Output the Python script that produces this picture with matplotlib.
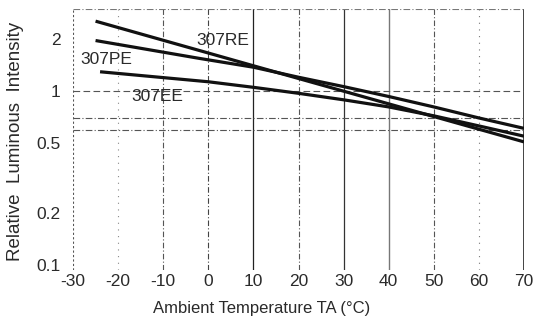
import matplotlib
matplotlib.use("Agg")
import matplotlib.pyplot as plt
from matplotlib import font_manager

names = {f.name for f in font_manager.fontManager.ttflist}
FAM = [n for n in ["Liberation Sans Narrow", "DejaVu Sans Condensed", "Liberation Sans", "DejaVu Sans"] if n in names]

# ---- data ----
temp_re = [-25, 20, 70]
val_re = [2.52, 1.18, 0.51]

temp_pe = [-25, -2, 10, 20, 30, 40, 50, 60, 70]
val_pe = [1.95, 1.54, 1.37, 1.20, 1.06, 0.93, 0.81, 0.70, 0.61]

temp_ee = [-24, 0, 10, 20, 30, 40, 50, 60, 70]
val_ee = [1.29, 1.13, 1.05, 0.97, 0.89, 0.81, 0.72, 0.63, 0.55]

x_ticks = [-30, -20, -10, 0, 10, 20, 30, 40, 50, 60, 70]
x_tick_labels = ["-30", "-20", "-10", "0", "10", "20", "30", "40", "50", "60", "70"]
y_ticks = [0.1, 0.2, 0.5, 1, 2]
y_tick_labels = ["0.1", "0.2", "0.5", "1", "2"]
h_refs = [0.7, 0.6]

series_labels = ["307RE", "307PE", "307EE"]

plt.rcParams["font.family"] = FAM

fig = plt.figure(figsize=(5.35, 3.33), dpi=100)
ax = fig.add_axes([73 / 535, 1 - 270 / 333, 451 / 535, 261 / 333])
ax.set_yscale("log")
ax.set_xlim(-30, 70)
ax.set_ylim(0.0936, 2.96)

for s in ax.spines.values():
    s.set_visible(False)

# vertical grid lines with assorted styles (scanned look)
vstyles = {
    -30: dict(ls=(0, (2, 2)), color="#555555", lw=0.8),
    -20: dict(ls=(0, (1, 5)), color="#888888", lw=0.8),
    -10: dict(ls=(0, (5, 2, 1, 2)), color="#555555", lw=0.8),
    0: dict(ls=(0, (5, 2, 1, 2)), color="#444444", lw=0.8),
    10: dict(ls="-", color="#222222", lw=0.9),
    20: dict(ls=(0, (5, 2, 1, 2)), color="#555555", lw=0.8),
    30: dict(ls="-", color="#333333", lw=0.9),
    40: dict(ls="-", color="#777777", lw=1.0),
    50: dict(ls=(0, (5, 2, 1, 2)), color="#555555", lw=0.8),
    60: dict(ls=(0, (1, 5)), color="#777777", lw=0.8),
    70: dict(ls="-", color="#111111", lw=1.1),
}
for t in x_ticks:
    ax.axvline(t, zorder=1, **vstyles[t])

ax.axhline(2.96, ls=(0, (6, 2, 1, 2)), color="#777777", lw=0.8, zorder=1)
ax.axhline(1, ls=(0, (6, 3)), color="#555555", lw=0.8, zorder=1)
for h in h_refs:
    ax.axhline(h, ls=(0, (6, 2, 1, 2)), color="#555555", lw=0.8, zorder=1)

for tx, vy in [(temp_re, val_re), (temp_pe, val_pe), (temp_ee, val_ee)]:
    ax.plot(tx, vy, color="#111111", lw=2.3, solid_capstyle="butt", zorder=3)

ax.set_xticks(x_ticks)
ax.set_xticklabels(x_tick_labels)
ax.set_yticks(y_ticks)
ax.set_yticklabels(y_tick_labels)
ax.minorticks_off()
ax.tick_params(axis="both", length=0, labelsize=12.5, colors="#2a2a2a")
ax.tick_params(axis="y", pad=9)
ax.tick_params(axis="x", pad=3)

lab_kw = dict(transform=ax.transAxes, fontsize=12.5, color="#2a2a2a", ha="center", va="center")
ax.text(0.333, 0.881, series_labels[0], **lab_kw)
ax.text(0.073, 0.805, series_labels[1], **lab_kw)
ax.text(0.187, 0.663, series_labels[2], **lab_kw)

fig.text(261.5 / 535, 1 - 309 / 333, "Ambient Temperature TA (°C)", ha="center", va="center",
         fontsize=12, color="#2a2a2a")
fig.text(16 / 535, 1 - 141.5 / 333, "Relative  Luminous  Intensity", ha="center", va="center",
         rotation=90, fontsize=13.5, color="#2a2a2a")

fig.savefig("out.png", dpi=100)
